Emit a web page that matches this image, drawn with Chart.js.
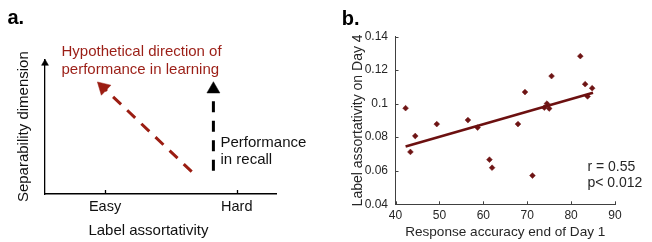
<!DOCTYPE html>
<html><head><meta charset="utf-8">
<script src="https://cdn.jsdelivr.net/npm/chart.js@4.4.1/dist/chart.umd.min.js"></script>
<style>
html,body{margin:0;padding:0;background:#fff;}
#wrap{position:relative;width:652px;height:242px;overflow:hidden;background:#fff;font-family:"Liberation Sans",Arial,Helvetica,sans-serif;}
canvas{position:absolute;top:0;}
#ca{left:0;}
#cb{left:330px;}
.t{position:absolute;white-space:nowrap;}
</style></head><body>
<div id="wrap">
  <canvas id="ca" width="330" height="242"></canvas>
  <canvas id="cb" width="322" height="242"></canvas>
  <div class="t" style="left:7.5px;top:7.4px;font-size:20px;line-height:20px;font-weight:bold;color:#000">a.</div>
  <div class="t" style="left:341.8px;top:8.1px;font-size:20px;line-height:20px;font-weight:bold;color:#000">b.</div>
  <div class="t" style="left:61.5px;top:41.8px;font-size:15px;line-height:18px;color:#9b1e16">Hypothetical direction of<br>performance in learning</div>
  <div class="t" style="left:220.5px;top:132.7px;font-size:15px;line-height:17.5px;color:#111">Performance<br>in recall</div>
  <div class="t" style="left:88.4px;top:222.3px;font-size:15px;line-height:15px;color:#111">Label assortativity</div>
  <div class="t" style="left:587.4px;top:157.5px;font-size:14px;line-height:16.6px;color:#262626">r = 0.55<br>p&lt; 0.012</div>
</div>
<script>
// ---------- Panel a : schematic ----------
const schemeTickLabels = ['Easy', 'Hard'];
const schemeTickValues = [26, 83];
const learningArrowX = [63.5, 25.2];
const learningArrowY = [16.6, 79.1];
const recallArrowX = [72.9, 72.9];
const recallArrowY = [17.3, 77.8];
const yAxisArrowX = [0];
const yAxisArrowY = [97];

// ---------- Panel b : scatter ----------
const accuracyDay1 = [42.3, 43.4, 44.5, 49.4, 56.5, 58.7, 61.4, 62.0, 67.9, 69.5, 71.2, 73.9, 74.5, 75.0, 75.55, 82.1, 83.2, 83.75, 84.8];
const assortativityDay4 = [0.0973, 0.0712, 0.0807, 0.0878, 0.0902, 0.0857, 0.0666, 0.0618, 0.0878, 0.1069, 0.0571, 0.0976, 0.1000, 0.0971, 0.1164, 0.1283, 0.1116, 0.1043, 0.1092];
const fitX = [42.3, 85.0];
const fitY = [0.0745, 0.1065];
const xTickValuesB = [40, 50, 60, 70, 80, 90];
const xTickLabelsB = ['40', '50', '60', '70', '80', '90'];
const yTickValuesB = [0.04, 0.06, 0.08, 0.1, 0.12, 0.14];
const yTickLabelsB = ['0.04', '0.06', '0.08', '0.1', '0.12', '0.14'];

const FONT = "'Liberation Sans', Arial, Helvetica, sans-serif";
Chart.defaults.font.family = FONT;

const zip = (xs, ys) => xs.map((x, i) => ({x: x, y: ys[i]}));

// arrowhead rotation follows the drawn direction of the segment
function arrowRotation(xs, ys) {
  return (c) => {
    const ch = c.chart;
    const sx = ch.scales.x, sy = ch.scales.y;
    if (!sx || !sy) return 0;
    const n = xs.length - 1;
    const dx = sx.getPixelForValue(xs[n]) - sx.getPixelForValue(xs[n - 1]);
    const dy = sy.getPixelForValue(ys[n]) - sy.getPixelForValue(ys[n - 1]);
    return Math.atan2(dx, -dy) * 180 / Math.PI;
  };
}

const inwardTicks = {
  id: 'inwardTicks',
  afterDatasetsDraw(chart, args, o) {
    const ctx = chart.ctx, a = chart.chartArea;
    ctx.save();
    ctx.strokeStyle = o.color;
    ctx.lineWidth = o.width;
    ctx.beginPath();
    if (o.x) {
      const s = chart.scales.x;
      s.ticks.forEach((t, i) => {
        const p = Math.round(s.getPixelForTick(i)) + 0.5;
        ctx.moveTo(p, a.bottom);
        ctx.lineTo(p, a.bottom - o.len);
      });
    }
    if (o.y) {
      const s = chart.scales.y;
      s.ticks.forEach((t, i) => {
        const p = Math.round(s.getPixelForTick(i)) + 0.5;
        ctx.moveTo(a.left, p);
        ctx.lineTo(a.left + o.len, p);
      });
    }
    ctx.stroke();
    ctx.restore();
  }
};

const RED = '#9b1d12';

new Chart(document.getElementById('ca'), {
  type: 'scatter',
  data: {
    datasets: [
      {
        data: zip(learningArrowX, learningArrowY),
        showLine: true,
        borderColor: RED, borderWidth: 3, borderDash: [11, 8.5], borderCapStyle: 'butt',
        pointRadius: [0, 8], pointStyle: 'triangle',
        pointBackgroundColor: RED, pointBorderColor: RED, pointBorderWidth: 0.5,
        rotation: arrowRotation(learningArrowX, learningArrowY),
        clip: false
      },
      {
        data: zip(recallArrowX, recallArrowY),
        showLine: true,
        borderColor: '#000', borderWidth: 3, borderDash: [11, 8.5], borderCapStyle: 'butt',
        pointRadius: [0, 7.5], pointStyle: 'triangle',
        pointBackgroundColor: '#000', pointBorderColor: '#000', pointBorderWidth: 0.5,
        rotation: 0,
        clip: false
      },
      {
        data: zip(yAxisArrowX, yAxisArrowY),
        pointRadius: 4, pointStyle: 'triangle',
        pointBackgroundColor: '#000', pointBorderColor: '#000', pointBorderWidth: 0.5,
        clip: false
      }
    ]
  },
  options: {
    responsive: false, animation: false, events: [],
    layout: {padding: {left: 0, top: 59.3, right: 54, bottom: 0}},
    plugins: {
      legend: {display: false}, tooltip: {enabled: false},
      inwardTicks: {x: true, y: false, len: 4, color: '#000', width: 1.3}
    },
    scales: {
      x: {
        type: 'linear', position: 'bottom', min: 0, max: 100,
        grid: {display: false, drawTicks: false},
        border: {display: true, color: '#000', width: 1.4},
        afterBuildTicks: (s) => { s.ticks = schemeTickValues.map(v => ({value: v})); },
        afterFit: (s) => { s.height = 48; },
        ticks: {
          autoSkip: false, maxRotation: 0, color: '#111', padding: 5.4,
          font: {size: 14.5, lineHeight: 1},
          callback: (v, i) => schemeTickLabels[i]
        },
        title: {display: false}
      },
      y: {
        type: 'linear', position: 'left', min: 0, max: 100,
        grid: {display: false, drawTicks: false},
        border: {display: true, color: '#000', width: 1.3},
        ticks: {display: false},
        afterFit: (s) => { s.width = 45; },
        title: {display: true, text: 'Separability dimension', color: '#111',
          font: {size: 15, lineHeight: 1}, padding: {top: 16.6, bottom: 0}}
      }
    }
  },
  plugins: [inwardTicks]
});

const DARK = '#6e1414';
new Chart(document.getElementById('cb'), {
  type: 'scatter',
  data: {
    datasets: [
      {
        data: zip(fitX, fitY),
        showLine: true, borderColor: '#6c1010', borderWidth: 2.6,
        pointRadius: 0
      },
      {
        data: zip(accuracyDay1, assortativityDay4),
        pointStyle: 'rectRot', pointRadius: 2.9,
        pointBackgroundColor: DARK, pointBorderColor: DARK, pointBorderWidth: 0.5
      }
    ]
  },
  options: {
    responsive: false, animation: false, events: [],
    layout: {padding: {left: 0, top: 36.5, right: 37, bottom: 0}},
    plugins: {
      legend: {display: false}, tooltip: {enabled: false},
      inwardTicks: {x: true, y: true, len: 3, color: '#404040', width: 1}
    },
    scales: {
      x: {
        type: 'linear', position: 'bottom', min: 40, max: 90,
        grid: {display: false, drawTicks: false},
        border: {display: true, color: '#404040', width: 1},
        afterBuildTicks: (s) => { s.ticks = xTickValuesB.map(v => ({value: v})); },
        afterFit: (s) => { s.height = 37.7; },
        ticks: {autoSkip: false, maxRotation: 0, color: '#262626', padding: 5.4,
          font: {size: 12, lineHeight: 1}, callback: (v, i) => xTickLabelsB[i]},
        title: {display: true, text: 'Response accuracy end of Day 1', color: '#262626',
          font: {size: 13.6, lineHeight: 1}, padding: {top: 0, bottom: 3.2}}
      },
      y: {
        type: 'linear', position: 'left', min: 0.04, max: 0.14,
        grid: {display: false, drawTicks: false},
        border: {display: true, color: '#404040', width: 1},
        afterBuildTicks: (s) => { s.ticks = yTickValuesB.map(v => ({value: v})); },
        afterFit: (s) => { s.width = 65.5; },
        ticks: {autoSkip: false, color: '#262626', padding: 7.5,
          font: {size: 12, lineHeight: 1}, callback: (v, i) => yTickLabelsB[i]},
        title: {display: true, text: 'Label assortativity on Day 4', color: '#262626',
          font: {size: 14, lineHeight: 1}, padding: {top: 20.7, bottom: 0}}
      }
    }
  },
  plugins: [inwardTicks]
});
</script>
</body></html>
